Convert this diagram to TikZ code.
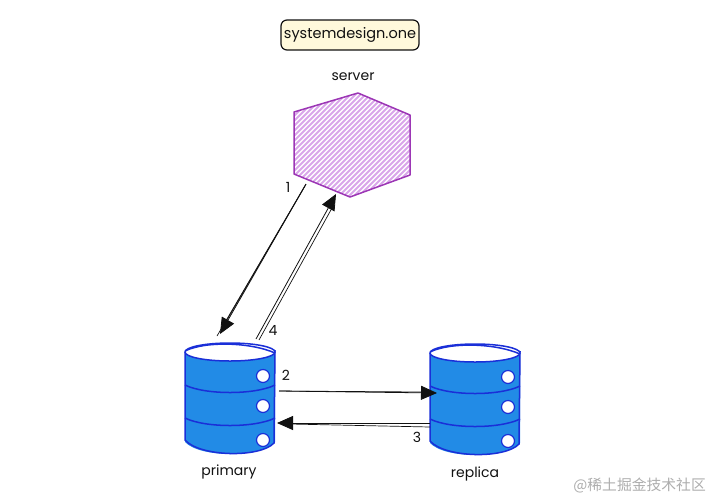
\documentclass[tikz,border=0pt]{standalone}
\usepackage{fontspec}
\setmainfont{Poppins}
\newfontfamily\cjk{Noto Sans CJK SC}
\usetikzlibrary{arrows.meta}
\definecolor{dbfill}{HTML}{228BE6}
\definecolor{dbline}{HTML}{1A2FD8}
\definecolor{hexline}{HTML}{9C36B5}
\definecolor{hexhatch}{HTML}{D9A6EA}
\definecolor{notefill}{HTML}{FFF9DB}
\definecolor{inkline}{HTML}{111111}
\tikzset{
    caption/.style={text=inkline,font=\fontsize{14}{16}\selectfont,inner sep=0pt},
    stepnum/.style={text=inkline,font=\fontsize{14}{16}\selectfont,inner sep=0pt},
    flow/.style={draw=inkline,line width=0.8pt,-{Triangle[length=16pt,width=14pt]}},
    flowrough/.style={draw=inkline,line width=0.7pt},
    dbedge/.style={draw=dbline,line width=1.5pt},
    dbstack/.pic={
        \fill[dbfill](-45,0)--(-45,90) .. controls (-30,106) and (30,106) .. (45,90)--(45,0)--cycle;
        \draw[dbedge](-45,0)--(-45,88) .. controls (-30,105) and (30,106) .. (44,91)--(45,-2);
        \draw[dbedge,fill=white](0,0)ellipse[x radius=45pt,y radius=9pt];
        \draw[dbedge](-45,-1) .. controls (-25,-11) and (20,-10) .. (45,1);
        \draw[dbedge](-45,33) .. controls (-25,43) and (25,43) .. (45,33);
        \draw[dbedge](-45,66) .. controls (-25,76) and (25,76) .. (45,66);
        \foreach \hy in {24,54,88}{
            \draw[dbline,line width=1.2pt,fill=white](33,\hy)circle(6.5pt);
        }
    }
}
\begin{document}
\begin{tikzpicture}[x=1pt,y=-1pt]
    \useasboundingbox(0,0)rectangle(711,499);
    % hexagon
    \coordinate(h1)at(294,112);
    \coordinate(h2)at(358,93);
    \coordinate(h3)at(410,115);
    \coordinate(h4)at(410,175);
    \coordinate(h5)at(350,197);
    \coordinate(h6)at(294,174);
    \begin{scope}
        \clip(h1)--(h2)--(h3)--(h4)--(h5)--(h6)--cycle;
        \foreach \i in {170,175,...,420}{
            \draw[hexhatch,line width=1.9pt](\i,200)--(\i+115,85);
        }
    \end{scope}
    \draw[hexline,line width=1.5pt,line join=round](h1)--(h2)--(h3)--(h4)--(h5)--(h6)--cycle;
    % cylinders
    \pic at (230,352){dbstack};
    \pic at (475,353){dbstack};
    % texts
    \node[draw=inkline,fill=notefill,line width=1.2pt,rounded corners=6pt,minimum width=138pt,minimum height=30pt,inner sep=0pt,font=\fontsize{14.5}{17}\selectfont,text=inkline](title)at(350,35){systemdesign.one};
    \node[caption](server)at(353,77){server};
    \node[caption](primary)at(229,472){primary};
    \node[caption](replica)at(475,474){replica};
    \node[stepnum](num1)at(288,187){1};
    \node[stepnum](num2)at(286,375){2};
    \node[stepnum](num3)at(417,437){3};
    \node[stepnum](num4)at(273,330){4};
    \node[text=black!32,inner sep=0pt,font=\cjk\fontsize{14.8}{16}\selectfont,anchor=east](mark)at(706,485){@稀土掘金技术社区};
    % arrow ends
    \coordinate(a1)at(306,184);
    \coordinate(b1)at(220,334);
    \coordinate(a4)at(256,339);
    \coordinate(b4)at(336,194);
    \coordinate(a2)at(279,391);
    \coordinate(b2)at(437,393);
    \coordinate(a3)at(430,423);
    \coordinate(b3)at(277,423);
    % arrows
    \draw[flow](a1)--(b1);
    \draw[flowrough](a1)--(217,336);
    \draw[flowrough](305,186)--(224,325);
    \draw[flow](a4)--(b4);
    \draw[flowrough](259,340)--(332,208);
    \draw[flow](a2)--(b2);
    \draw[flowrough](a2)--(425,392);
    \draw[flow](a3)--(b3);
    \draw[flowrough](430,427)--(290,424);
\end{tikzpicture}
\end{document}
